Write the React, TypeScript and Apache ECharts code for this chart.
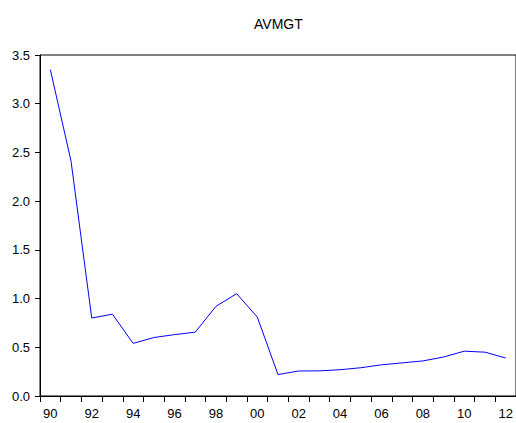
import React, { useEffect, useRef } from "react";
import * as echarts from "echarts";

const years: string[] = [
  "90", "91", "92", "93", "94", "95", "96", "97", "98", "99", "00", "01",
  "02", "03", "04", "05", "06", "07", "08", "09", "10", "11", "12",
];
const avmgt: number[] = [
  3.35, 2.41, 0.80, 0.84, 0.54, 0.60, 0.63, 0.655, 0.92, 1.05, 0.81, 0.22,
  0.257, 0.258, 0.27, 0.29, 0.32, 0.34, 0.36, 0.40, 0.46, 0.45, 0.39,
];
const yTicks = { min: 0, max: 3.5, interval: 0.5 };
const titleText = "AVMGT";

export default function App() {
  const ref = useRef<HTMLDivElement>(null);
  useEffect(() => {
    if (!ref.current) return;
    const chart = echarts.init(ref.current, undefined, { renderer: "svg" });
    chart.setOption({
      animation: false,
      backgroundColor: "#ffffff",
      title: {
        text: titleText,
        left: 249,
        top: 12,
        textStyle: {
          fontFamily: "Liberation Sans, Arial, sans-serif",
          fontSize: 14,
          fontWeight: "normal",
          color: "#000000",
        },
      },
      grid: {
        left: 40,
        top: 55,
        right: -2,
        bottom: 27,
        show: true,
        borderColor: "#000000",
        borderWidth: 1,
        backgroundColor: "transparent",
      },
      xAxis: {
        type: "category",
        data: years,
        boundaryGap: true,
        axisLine: { show: true, lineStyle: { color: "#000000", width: 1 } },
        axisTick: {
          show: true,
          interval: 0,
          length: 6,
          inside: false,
          lineStyle: { color: "#000000" },
        },
        axisLabel: {
          interval: 1,
          margin: 11,
          fontFamily: "Liberation Sans, Arial, sans-serif",
          fontSize: 13,
          color: "#000000",
        },
        splitLine: { show: false },
      },
      yAxis: {
        type: "value",
        min: yTicks.min,
        max: yTicks.max,
        interval: yTicks.interval,
        axisLine: { show: true, lineStyle: { color: "#000000", width: 1 } },
        axisTick: { show: true, length: 5, lineStyle: { color: "#000000" } },
        axisLabel: {
          margin: 10,
          fontFamily: "Liberation Sans, Arial, sans-serif",
          fontSize: 13,
          color: "#000000",
          formatter: (v: number) => v.toFixed(1),
        },
        splitLine: { show: false },
      },
      series: [
        {
          type: "line",
          data: avmgt,
          showSymbol: false,
          symbol: "none",
          lineStyle: { color: "#0000ff", width: 1 },
          itemStyle: { color: "#0000ff" },
        },
      ],
    });
    return () => chart.dispose();
  }, []);
  return (
    <div
      ref={ref}
      style={{ position: "absolute", left: 0, top: 0, width: 516, height: 423 }}
    />
  );
}
